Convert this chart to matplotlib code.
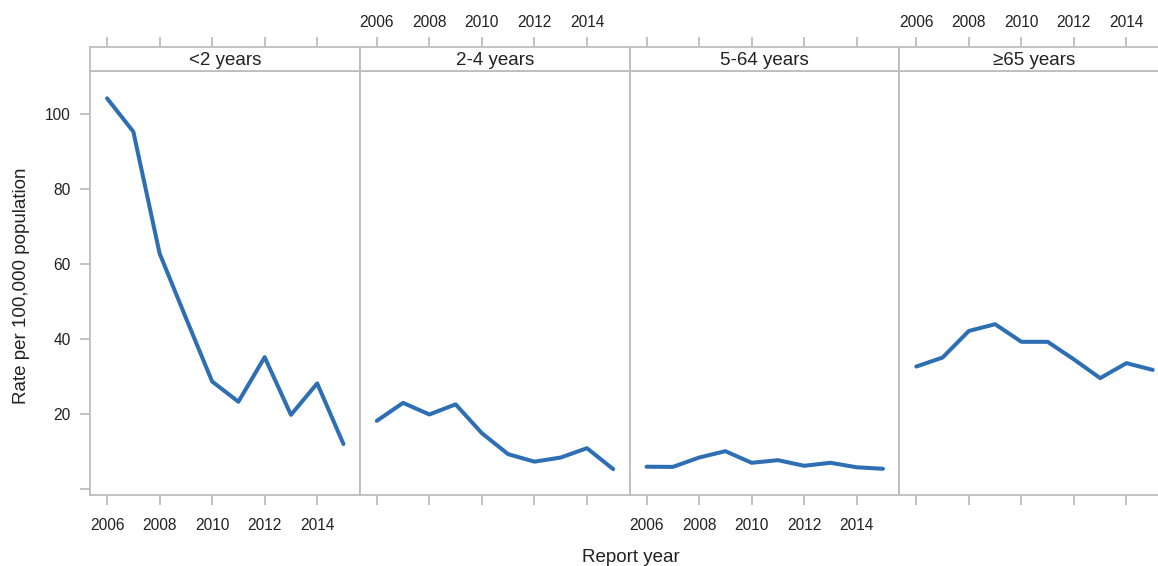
import matplotlib
matplotlib.use("Agg")
import matplotlib.pyplot as plt

# ---- data ----
years = [2006, 2007, 2008, 2009, 2010, 2011, 2012, 2013, 2014, 2015]
panel_titles = ["<2 years", "2-4 years", "5-64 years", "\u226565 years"]
rate_under2 = [104.3, 95.4, 62.9, 45.7, 28.7, 23.3, 35.2, 19.8, 28.2, 12.0]
rate_2_4 = [18.2, 23.0, 19.9, 22.6, 14.9, 9.3, 7.3, 8.4, 10.9, 5.3]
rate_5_64 = [5.95, 5.9, 8.4, 10.1, 7.0, 7.7, 6.2, 7.0, 5.8, 5.4]
rate_65 = [32.7, 35.1, 42.2, 44.0, 39.3, 39.3, 34.6, 29.6, 33.6, 31.8]
x_ticks = [2006, 2008, 2010, 2012, 2014]
y_ticks = [0, 20, 40, 60, 80, 100]
y_ticklabels = ["", "20", "40", "60", "80", "100"]
ylabel = "Rate per 100,000 population"
xlabel = "Report year"

series = [rate_under2, rate_2_4, rate_5_64, rate_65]

plt.rcParams['font.family'] = ['Liberation Sans', 'DejaVu Sans']

W, H = 1158, 566
fig = plt.figure(figsize=(W / 100, H / 100), dpi=100)

GRAY = "#BDBDBD"
TXT = "#222222"
LINE = "#2E6FB3"

def fx(px):
    return px / W

def fy(py):
    return 1 - py / H

left0 = 90
pw = 269.75
top = 71
bottom = 495
strip_top = 47

xlim = (2005.35, 2015.62)
ylim = (-1.6, 111.6)

for i, (title, vals) in enumerate(zip(panel_titles, series)):
    lx = left0 + i * pw
    ax = fig.add_axes([fx(lx), fy(bottom), pw / W, (bottom - top) / H])
    ax.plot(years, vals, color=LINE, lw=2.9, solid_joinstyle='round', solid_capstyle='round')
    ax.set_xlim(*xlim)
    ax.set_ylim(*ylim)
    for s in ax.spines.values():
        s.set_color(GRAY)
        s.set_linewidth(1.3)
    ax.set_xticks(x_ticks)
    ax.tick_params(axis='x', direction='out', length=7, width=1.3, color=GRAY,
                   labelsize=11.2, labelcolor=TXT, pad=9.5, top=False)
    if i % 2 == 1:
        ax.set_xticklabels([])
    ax.set_yticks(y_ticks)
    if i == 0:
        ax.set_yticklabels(y_ticklabels)
        ax.tick_params(axis='y', direction='out', length=7, width=1.3, color=GRAY,
                       labelsize=11.2, labelcolor=TXT, pad=7)
    else:
        ax.tick_params(axis='y', left=False, labelleft=False)

    # strip
    sx = fig.add_axes([fx(lx), fy(top), pw / W, (top - strip_top) / H])
    sx.set_xlim(*xlim)
    sx.set_ylim(0, 1)
    for s in sx.spines.values():
        s.set_color(GRAY)
        s.set_linewidth(1.3)
    sx.set_yticks([])
    sx.xaxis.tick_top()
    sx.set_xticks(x_ticks)
    sx.tick_params(axis='x', direction='out', length=7, width=1.3, color=GRAY,
                   labelsize=11.2, labelcolor=TXT, pad=5.5, bottom=False)
    if i % 2 == 0:
        sx.set_xticklabels([])
    sx.text(0.5, 0.45, title, transform=sx.transAxes, ha='center', va='center',
            fontsize=13.5, color=TXT)

fig.text(fx(22), fy(286), ylabel, rotation=90, ha='center', va='center',
         fontsize=13.5, color=TXT)
fig.text(fx(631), fy(558), xlabel, ha='center', va='center',
         fontsize=13.5, color=TXT)

fig.savefig("out.png", dpi=100, facecolor='white')
